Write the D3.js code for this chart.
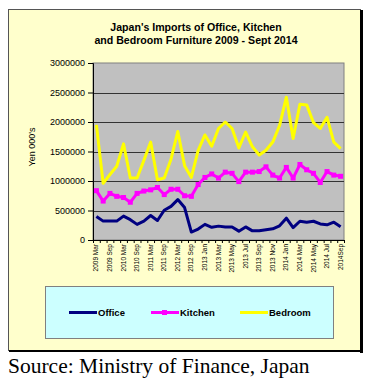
<!DOCTYPE html>
<html>
<head>
<meta charset="utf-8">
<script src="https://cdnjs.cloudflare.com/ajax/libs/d3/7.8.5/d3.min.js"></script>
<style>
  body { margin: 0; background: #fff; }
  svg { display: block; }
</style>
</head>
<body>
<script>
// categories: quarterly to 2012, then monthly
var categories = ["2009 Mar", "2009 Jun", "2009 Sep", "2009 Dec", "2010 Mar", "2010 Jun", "2010 Sep", "2010 Dec",
    "2011 Mar", "2011 Jun", "2011 Sep", "2011 Dec", "2012 Mar", "2012 Jun", "2012 Sep", "2012 Nov",
    "2013 Jan", "2013 Feb", "2013 Mar", "2013 Apr", "2013 May", "2013 Jun", "2013 Jul", "2013 Aug",
    "2013 Sep", "2013 Oct", "2013 Nov", "2013 Dec", "2014 Jan", "2014 Feb", "2014 Mar", "2014 Apr",
    "2014 May", "2014 Jun", "2014 Jul", "2014 Aug", "2014Sep"];
var office = [400000, 320000, 320000, 320000, 405000, 345000, 265000, 320000, 415000, 330000, 505000, 570000,
    685000, 550000, 135000, 185000, 265000, 215000, 235000, 220000, 220000, 150000, 222000, 155000,
    155000, 172000, 190000, 240000, 370000, 210000, 318000, 300000, 318000, 272000, 258000, 302000, 225000];
var kitchen = [836000, 660000, 790000, 740000, 720000, 640000, 790000, 830000, 850000, 890000, 770000, 860000,
    860000, 750000, 740000, 940000, 1060000, 1120000, 1050000, 1150000, 1130000, 990000, 1150000, 1150000,
    1160000, 1240000, 1100000, 1050000, 1230000, 1050000, 1280000, 1190000, 1130000, 975000, 1160000, 1100000, 1080000];
var bedroom = [1950000, 960000, 1110000, 1250000, 1630000, 1050000, 1050000, 1350000, 1660000, 1020000, 1050000, 1370000,
    1840000, 1260000, 1060000, 1520000, 1780000, 1590000, 1890000, 2000000, 1890000, 1560000, 1830000, 1580000,
    1440000, 1520000, 1660000, 1940000, 2420000, 1720000, 2300000, 2290000, 1990000, 1890000, 2080000, 1660000, 1550000];
var yTicks = [0, 500000, 1000000, 1500000, 2000000, 2500000, 3000000];
var seriesNames = ["Office", "Kitchen", "Bedroom"];
var seriesColors = ["#000080", "#FF00FF", "#FFFF00"];

var w = 374;
var h = 382;
var plotLeft = 93, plotRight = 344, plotTop = 63, plotBottom = 240;

var svg = d3.select("body")
    .append("svg")
    .attr("width", w)
    .attr("height", h);

// outer frame with shadow
svg.append("rect")
    .attr("x", 8.5).attr("y", 9.5)
    .attr("width", 352).attr("height", 341)
    .attr("fill", "#FFFFCC")
    .attr("stroke", "#555").attr("stroke-width", 1);
svg.append("rect").attr("x", 360).attr("y", 10).attr("width", 3).attr("height", 343).attr("fill", "#000");
svg.append("rect").attr("x", 9).attr("y", 350).attr("width", 354).attr("height", 2).attr("fill", "#000");

// title
svg.selectAll(".title")
    .data(["Japan's Imports of Office, Kitchen", "and Bedroom Furniture 2009 - Sept 2014"])
    .enter()
    .append("text")
    .attr("class", "title")
    .text(function (d) { return d; })
    .attr("x", 196)
    .attr("y", function (d, i) { return 31 + i * 13; })
    .attr("text-anchor", "middle")
    .attr("font-family", "Liberation Sans, Arial, sans-serif")
    .attr("font-weight", "bold")
    .attr("font-size", "10.6px")
    .attr("fill", "#000");

var xScale = d3.scaleBand()
    .domain(categories)
    .range([plotLeft, plotRight])
    .padding(0);
var yScale = d3.scaleLinear()
    .domain([0, 3000000])
    .range([plotBottom, plotTop]);

// plot area
svg.append("rect")
    .attr("x", plotLeft).attr("y", plotTop)
    .attr("width", plotRight - plotLeft).attr("height", plotBottom - plotTop)
    .attr("fill", "#C0C0C0")
    .attr("stroke", "#808080");

svg.selectAll(".grid")
    .data(yTicks.slice(1, -1))
    .enter()
    .append("line")
    .attr("class", "grid")
    .attr("x1", plotLeft).attr("x2", plotRight)
    .attr("y1", function (d) { return Math.round(yScale(d)) + 0.5; })
    .attr("y2", function (d) { return Math.round(yScale(d)) + 0.5; })
    .attr("stroke", "#333")
    .attr("stroke-width", 1);

// y axis
var yAxis = d3.axisLeft(yScale).tickValues(yTicks).tickSize(5).tickPadding(3)
    .tickFormat(function (d) { return d; });
var gy = svg.append("g")
    .attr("transform", "translate(" + plotLeft + ",0)")
    .call(yAxis);
gy.selectAll("text")
    .attr("font-family", "Liberation Sans, Arial, sans-serif")
    .attr("font-size", "9px")
    .attr("fill", "#000");
gy.selectAll("line, path").attr("stroke", "#000");

svg.append("text")
    .text("Yen 000's")
    .attr("transform", "translate(35,147) rotate(-90)")
    .attr("text-anchor", "middle")
    .attr("font-family", "Liberation Sans, Arial, sans-serif")
    .attr("font-size", "9px")
    .attr("fill", "#000");

// x axis: tick marks at category boundaries
var xEdge = d3.scaleLinear().domain([0, categories.length]).range([plotLeft, plotRight]);
var gxt = svg.append("g")
    .attr("transform", "translate(0," + plotBottom + ")")
    .call(d3.axisBottom(xEdge).tickValues(d3.range(categories.length + 1)).tickSize(3).tickFormat(""));
gxt.selectAll("line, path").attr("stroke", "#000");

var gx = svg.append("g")
    .attr("transform", "translate(0," + plotBottom + ")")
    .call(d3.axisBottom(xScale)
        .tickValues(categories.filter(function (d, i) { return i % 2 === 0; }))
        .tickSize(0));
gx.select(".domain").remove();
gx.selectAll("text")
    .attr("transform", "rotate(-90)")
    .attr("x", -4)
    .attr("y", 0)
    .attr("dy", "0.32em")
    .attr("text-anchor", "end")
    .attr("font-family", "Liberation Sans, Arial, sans-serif")
    .attr("font-size", "6.5px")
    .attr("fill", "#000");

// lines
var seriesData = [office, kitchen, bedroom];
var line = d3.line()
    .x(function (d, i) { return xScale(categories[i]) + xScale.bandwidth() / 2; })
    .y(function (d) { return yScale(d); });

svg.selectAll(".series")
    .data(seriesData)
    .enter()
    .append("path")
    .attr("class", "series")
    .attr("d", line)
    .attr("fill", "none")
    .attr("stroke", function (d, i) { return seriesColors[i]; })
    .attr("stroke-width", 3)
    .attr("stroke-linejoin", "round");

svg.selectAll(".kmark")
    .data(kitchen)
    .enter()
    .append("rect")
    .attr("class", "kmark")
    .attr("x", function (d, i) { return xScale(categories[i]) + xScale.bandwidth() / 2 - 2.5; })
    .attr("y", function (d) { return yScale(d) - 2.5; })
    .attr("width", 5).attr("height", 5)
    .attr("fill", "#FF00FF");

// legend
svg.append("rect")
    .attr("x", 45.5).attr("y", 286.5)
    .attr("width", 288).attr("height", 52)
    .attr("fill", "#CCFFFF")
    .attr("stroke", "#808080");

var legendX = [69, 151, 240];
var lg = svg.selectAll(".legend")
    .data(seriesNames)
    .enter()
    .append("g")
    .attr("class", "legend")
    .attr("transform", function (d, i) { return "translate(" + legendX[i] + ",312.5)"; });
lg.append("line")
    .attr("x1", 0).attr("x2", 28)
    .attr("stroke", function (d, i) { return seriesColors[i]; })
    .attr("stroke-width", 3);
lg.filter(function (d, i) { return i === 1; })
    .append("rect")
    .attr("x", 11).attr("y", -2.5).attr("width", 5).attr("height", 5)
    .attr("fill", "#FF00FF");
lg.append("text")
    .text(function (d) { return d; })
    .attr("x", 29)
    .attr("dy", "0.35em")
    .attr("font-family", "Liberation Sans, Arial, sans-serif")
    .attr("font-weight", "bold")
    .attr("font-size", "9.5px")
    .attr("fill", "#000");

// source
svg.append("text")
    .text("Source: Ministry of Finance, Japan")
    .attr("x", 8)
    .attr("y", 372.5)
    .attr("font-family", "Liberation Serif, Times New Roman, serif")
    .attr("font-size", "21.5px")
    .attr("fill", "#000");
</script>
</body>
</html>
